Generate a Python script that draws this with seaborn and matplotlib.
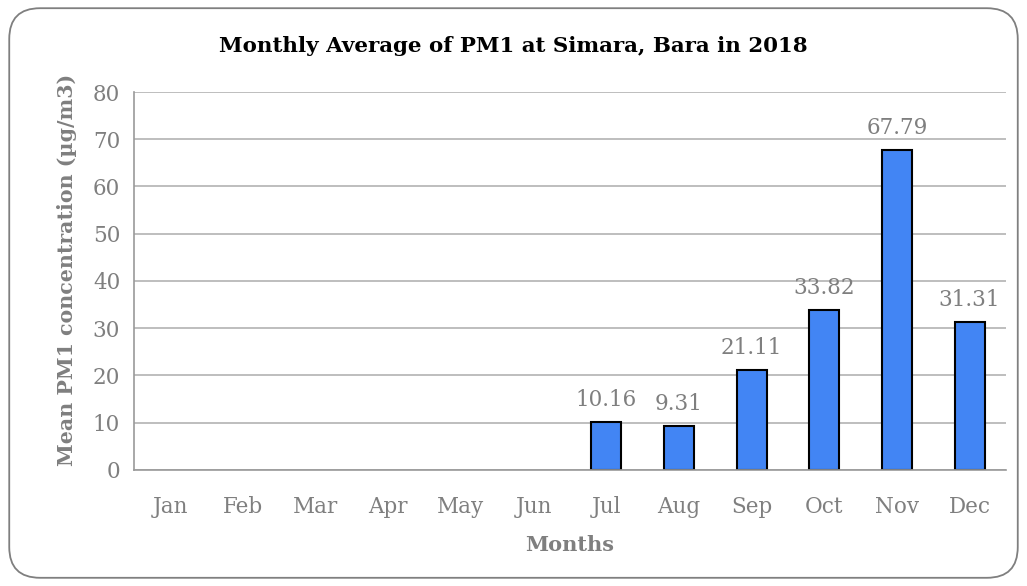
import numpy as np
import pandas as pd
import matplotlib
matplotlib.use("Agg")
import matplotlib.pyplot as plt
from matplotlib.patches import FancyBboxPatch
import seaborn as sns

months = ["Jan", "Feb", "Mar", "Apr", "May", "Jun", "Jul", "Aug", "Sep", "Oct", "Nov", "Dec"]
pm1 = [np.nan, np.nan, np.nan, np.nan, np.nan, np.nan, 10.16, 9.31, 21.11, 33.82, 67.79, 31.31]
yticks = [0, 10, 20, 30, 40, 50, 60, 70, 80]

sns.set_theme(style="white")
plt.rcParams['font.family'] = ['DejaVu Serif', 'Liberation Serif']

df = pd.DataFrame({"Month": months, "PM1": pm1})

fig = plt.figure(figsize=(10.27, 5.86), dpi=100)
ax = fig.add_axes([0.1305, 0.198, 0.849, 0.645])

gray = "#7f7f7f"
sns.barplot(data=df, x="Month", y="PM1", order=months, color="#4285F4",
            edgecolor="black", linewidth=1.5, width=0.41, saturation=1, ax=ax)

ax.set_ylim(0, 80)
ax.set_yticks(yticks)
ax.set_xlim(-0.5, len(months) - 0.5)
ax.yaxis.grid(True, color="#b3b3b3", linewidth=1.2)
ax.set_axisbelow(True)
for s in ["top", "right"]:
    ax.spines[s].set_visible(False)
ax.spines["left"].set_color("#999999")
ax.spines["bottom"].set_color("#999999")
ax.spines["left"].set_linewidth(1.2)
ax.spines["bottom"].set_linewidth(1.2)
ax.tick_params(axis="both", length=0, labelsize=15.5, colors=gray, pad=10)
ax.tick_params(axis="x", pad=19)

for i, v in enumerate(pm1):
    if not np.isnan(v):
        ax.annotate(f"{v:.2f}", (i, v), xytext=(0, 8), textcoords="offset points",
                    ha="center", va="bottom", fontsize=15.5, color=gray)

ax.set_xlabel("Months", fontsize=15, fontweight="bold", color=gray, labelpad=12)
ax.set_ylabel("Mean PM1 concentration (µg/m3)", fontsize=14.8, fontweight="bold",
              color=gray)
ax.yaxis.set_label_coords(-0.065, 0.53)

fig.text(0.5, 0.922, "Monthly Average of PM1 at Simara, Bara in 2018", ha="center",
         va="center", fontsize=15.4, fontweight="bold", color="black")

border = FancyBboxPatch((0.009, 0.014), 0.982, 0.972, boxstyle="round,pad=0,rounding_size=0.03",
                        transform=fig.transFigure, facecolor="none", edgecolor="#7f7f7f",
                        linewidth=1.3, mutation_aspect=1.75)
fig.patches.append(border)

fig.savefig("out.png", dpi=100)
